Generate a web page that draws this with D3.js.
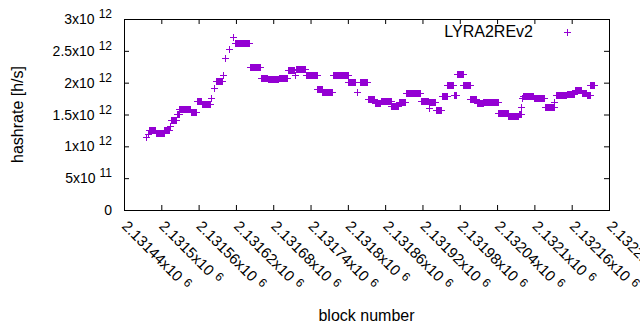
<!DOCTYPE html>
<html>
<head>
<meta charset="utf-8">
<script src="https://cdn.jsdelivr.net/npm/d3@7.9.0/dist/d3.min.js"></script>
<style>
  body { margin: 0; background: #fff; }
  text { font-family: "Liberation Sans", Arial, sans-serif; fill: #000; }
</style>
</head>
<body>
<svg id="chart" width="640" height="330"></svg>
<script>
// runs of consecutive blocks sharing the same hashrate (first block, last block, h/s)
const runStart = [2131475, 2131479, 2131480, 2131491, 2131505, 2131514, 2131516, 2131525, 2131529, 2131547,
  2131557, 2131565, 2131580, 2131585, 2131588, 2131599, 2131602, 2131609, 2131616, 2131618,
  2131642, 2131660, 2131671, 2131689, 2131703, 2131715, 2131717, 2131732, 2131751, 2131759,
  2131776, 2131801, 2131814, 2131820, 2131832, 2131843, 2131853, 2131870, 2131882, 2131893,
  2131918, 2131930, 2131931, 2131941, 2131951, 2131960, 2131970, 2131976, 2131986, 2131997,
  2132007, 2132018, 2132042, 2132058, 2132075, 2132079, 2132080, 2132082, 2132099, 2132117,
  2132132, 2132135, 2132152, 2132165, 2132176, 2132184, 2132190];
const runEnd = [2131475, 2131479, 2131490, 2131504, 2131512, 2131514, 2131524, 2131528, 2131546, 2131556,
  2131564, 2131578, 2131580, 2131585, 2131598, 2131599, 2131602, 2131609, 2131616, 2131641,
  2131659, 2131670, 2131688, 2131702, 2131713, 2131715, 2131731, 2131750, 2131758, 2131775,
  2131800, 2131812, 2131814, 2131831, 2131842, 2131852, 2131869, 2131881, 2131892, 2131916,
  2131929, 2131930, 2131940, 2131950, 2131959, 2131969, 2131974, 2131985, 2131996, 2132006,
  2132017, 2132041, 2132057, 2132074, 2132078, 2132079, 2132080, 2132098, 2132115, 2132131,
  2132132, 2132151, 2132164, 2132175, 2132183, 2132189, 2132196];
const runValue = [1.14e12, 1.20e12, 1.26e12, 1.21e12, 1.26e12, 1.32e12, 1.41e12, 1.51e12, 1.59e12, 1.54e12,
  1.71e12, 1.67e12, 1.76e12, 1.92e12, 2.03e12, 2.12e12, 2.39e12, 2.53e12, 2.71e12, 2.62e12,
  2.24e12, 2.07e12, 2.05e12, 2.07e12, 2.20e12, 2.12e12, 2.21e12, 2.12e12, 1.90e12, 1.85e12,
  2.12e12, 2.01e12, 1.86e12, 2.01e12, 1.74e12, 1.68e12, 1.71e12, 1.63e12, 1.70e12, 1.84e12,
  1.71e12, 1.60e12, 1.70e12, 1.57e12, 1.79e12, 1.96e12, 1.81e12, 2.13e12, 1.96e12, 1.74e12,
  1.68e12, 1.70e12, 1.52e12, 1.48e12, 1.51e12, 1.62e12, 1.76e12, 1.79e12, 1.76e12, 1.62e12,
  1.70e12, 1.81e12, 1.82e12, 1.88e12, 1.84e12, 1.81e12, 1.96e12];

const xTicks = [2131440, 2131500, 2131560, 2131620, 2131680, 2131740, 2131800,
  2131860, 2131920, 2131980, 2132040, 2132100, 2132160, 2132220];
const yTicks = [0, 5e11, 1e12, 1.5e12, 2e12, 2.5e12, 3e12];
const seriesName = 'LYRA2REv2';

// expand the runs into one point per block
let points = [];
runStart.forEach((s, i) => {
    for (let b = s; b <= runEnd[i]; b++) points.push({ block: b, value: runValue[i] });
});

const width = 640, height = 330;
const margin = { top: 19, right: 31, bottom: 120, left: 124 };
const color = '#9400d3';
const plus = 'M-3.5,0H3.5M0,-3.5V3.5';

let svg = d3.select('#chart');

let x = d3.scaleLinear().domain([2131440, 2132220]).range([margin.left, width - margin.right]);
let y = d3.scaleLinear().domain([0, 3e12]).range([height - margin.bottom, margin.top]);

// split a number into mantissa and power of ten, gnuplot style
function sci(v) {
    if (v === 0) return null;
    let e = Math.floor(Math.log10(v));
    let m = +(v / Math.pow(10, e)).toFixed(6);
    return { m: m, e: e };
}

// ticks on all four sides, pointing inward
svg.append('g')
   .attr('transform', `translate(0,${height - margin.bottom})`)
   .call(d3.axisBottom(x).tickValues(xTicks).tickSize(-5).tickFormat(''))
   .call(g => g.select('.domain').remove());
svg.append('g')
   .attr('transform', `translate(0,${margin.top})`)
   .call(d3.axisTop(x).tickValues(xTicks).tickSize(-5).tickFormat(''))
   .call(g => g.select('.domain').remove());
svg.append('g')
   .attr('transform', `translate(${margin.left},0)`)
   .call(d3.axisLeft(y).tickValues(yTicks).tickSize(-5).tickFormat(''))
   .call(g => g.select('.domain').remove());
svg.append('g')
   .attr('transform', `translate(${width - margin.right},0)`)
   .call(d3.axisRight(y).tickValues(yTicks).tickSize(-5).tickFormat(''))
   .call(g => g.select('.domain').remove());
svg.selectAll('.tick line').attr('stroke', '#000');

// y tick labels
svg.append('g').selectAll('text')
   .data(yTicks)
   .enter()
   .append('text')
   .attr('x', 112)
   .attr('y', d => y(d) + 5)
   .attr('text-anchor', 'end')
   .style('font-size', '14px')
   .each(function(d) {
       let t = d3.select(this);
       let s = sci(d);
       if (!s) { t.text('0'); return; }
       t.append('tspan').text(`${s.m}x10`);
       t.append('tspan').attr('dx', 4).attr('dy', -6).style('font-size', '12px').text(s.e);
   });

// x tick labels, rotated
svg.append('g').selectAll('text')
   .data(xTicks)
   .enter()
   .append('text')
   .attr('transform', d => `translate(${x(d) - 3},${227}) rotate(45)`)
   .style('font-size', '15px')
   .each(function(d) {
       let t = d3.select(this);
       let s = sci(d);
       t.append('tspan').text(`${s.m}x10`);
       t.append('tspan').attr('dx', 5).attr('dy', -4).style('font-size', '12px').text(s.e);
   });

// points
svg.append('g').selectAll('path')
   .data(points)
   .enter()
   .append('path')
   .attr('transform', d => `translate(${Math.round(x(d.block)) + 0.5},${Math.round(y(d.value)) + 0.5})`)
   .attr('d', plus)
   .attr('stroke', color)
   .attr('fill', 'none')
   .attr('shape-rendering', 'crispEdges');

// frame
svg.append('rect')
   .attr('x', margin.left + 0.5)
   .attr('y', margin.top + 0.5)
   .attr('width', width - margin.left - margin.right)
   .attr('height', height - margin.top - margin.bottom)
   .attr('fill', 'none')
   .attr('stroke', '#000');

// axis titles
svg.append('text')
   .attr('x', (margin.left + width - margin.right) / 2)
   .attr('y', 321)
   .attr('text-anchor', 'middle')
   .style('font-size', '16px')
   .text('block number');
svg.append('text')
   .attr('transform', `translate(23,${(margin.top + height - margin.bottom) / 2}) rotate(-90)`)
   .attr('text-anchor', 'middle')
   .style('font-size', '16px')
   .text('hashrate [h/s]');

// key
svg.append('text')
   .attr('x', 533)
   .attr('y', 37)
   .attr('text-anchor', 'end')
   .style('font-size', '16px')
   .text(seriesName);
svg.append('path')
   .attr('transform', 'translate(567.5,32.5)')
   .attr('d', plus)
   .attr('stroke', color)
   .attr('shape-rendering', 'crispEdges');
</script>
</body>
</html>
